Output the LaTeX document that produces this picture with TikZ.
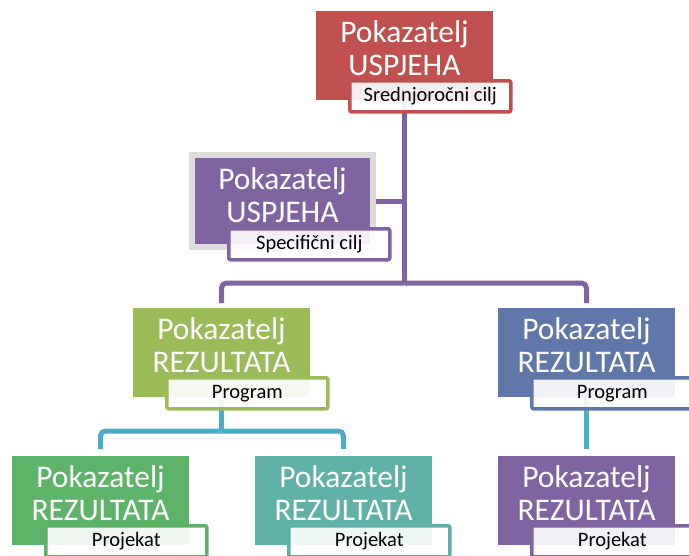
\documentclass[tikz,border=0pt]{standalone}
\usepackage{fontspec}
\setmainfont{Carlito}
\usepackage{tikz}
\usetikzlibrary{positioning,calc,backgrounds}

\definecolor{red_c}{HTML}{C0504D}
\definecolor{purple_c}{HTML}{8064A2}
\definecolor{olive_c}{HTML}{9BBB59}
\definecolor{blue_c}{HTML}{6078A9}
\definecolor{green_c}{HTML}{5DB468}
\definecolor{teal_c}{HTML}{5FB0A7}
\definecolor{cyan_c}{HTML}{4BACC6}
\definecolor{frame_c}{HTML}{DCDCDC}

\begin{document}
\begin{tikzpicture}[x=1pt,y=-1pt,
	main_box/.style={rectangle,minimum width=177pt,minimum height=89pt,anchor=north west,inner sep=0pt,outer sep=0pt},
	main_text/.style={anchor=north,align=center,inner sep=0pt,text=white,yshift=-9.5pt,font=\fontsize{31.5}{33}\selectfont},
	tag_box/.style={rectangle,draw=#1,line width=3.6pt,rounded corners=2pt,fill=white,fill opacity=0.9,text opacity=1,minimum width=161pt,minimum height=31pt,anchor=north west,inner sep=0pt,font=\fontsize{20.5}{22}\selectfont},
	conn_p/.style={draw=purple_c,line width=5pt,rounded corners=5pt},
	conn_c/.style={draw=cyan_c,line width=5pt,rounded corners=5pt}]
	
	\useasboundingbox (0,0) rectangle (689,555);
	\clip (0,0) rectangle (689,555);
	
	\node[main_box, fill=red_c] (1) at (316,11) {};
	\node[main_box, fill=purple_c, minimum width=175pt, minimum height=86pt, preaction={draw=frame_c,line width=12pt}] (2) at (195,158) {};
	\node[main_box, fill=olive_c] (3) at (133,308) {};
	\node[main_box, fill=blue_c] (4) at (498,308) {};
	\node[main_box, fill=green_c] (5) at (12,456) {};
	\node[main_box, fill=teal_c] (6) at (255,456) {};
	\node[main_box, fill=purple_c] (7) at (498,456) {};
	
	\node[main_text] (1t) at (1.north) {Pokazatelj\\USPJEHA};
	\node[main_text] (2t) at (2.north) {Pokazatelj\\USPJEHA};
	\node[main_text] (3t) at (3.north) {Pokazatelj\\REZULTATA};
	\node[main_text] (4t) at (4.north) {Pokazatelj\\REZULTATA};
	\node[main_text] (5t) at (5.north) {Pokazatelj\\REZULTATA};
	\node[main_text] (6t) at (6.north) {Pokazatelj\\REZULTATA};
	\node[main_text] (7t) at (7.north) {Pokazatelj\\REZULTATA};
	
	\node[tag_box=red_c] (t1) at ($(1.south west)+(32,-21)$) {Srednjoročni cilj};
	\node[tag_box=purple_c] (t2) at ($(2.south west)+(32,-17)$) {Specifični cilj};
	\node[tag_box=olive_c] (t3) at ($(3.south west)+(32,-21)$) {Program};
	\node[tag_box=blue_c] (t4) at ($(4.south west)+(32,-21)$) {Program};
	\node[tag_box=green_c] (t5) at ($(5.south west)+(32,-21)$) {Projekat};
	\node[tag_box=teal_c] (t6) at ($(6.south west)+(32,-21)$) {Projekat};
	\node[tag_box=purple_c] (t7) at ($(7.south west)+(32,-21)$) {Projekat};
	
	\begin{scope}[on background layer]
		\coordinate (c1) at (1.south |- 0,283);
		\coordinate (c3) at (3.south |- 0,431);
		\draw[conn_p] (1.south) -- (c1);
		\draw[conn_p] (2.east) -- (2.east -| c1);
		\draw[conn_p, shorten >=5pt] (c1) -| (3.north);
		\draw[conn_p, shorten >=5pt] (c1) -| (4.north);
		\draw[conn_c] (3.south) -- (c3);
		\draw[conn_c, shorten >=7pt] (c3) -| (5.north);
		\draw[conn_c, shorten >=7pt] (c3) -| (6.north);
		\draw[conn_c, shorten >=7pt] (4.south) -- (7.north);
	\end{scope}
\end{tikzpicture}
\end{document}
